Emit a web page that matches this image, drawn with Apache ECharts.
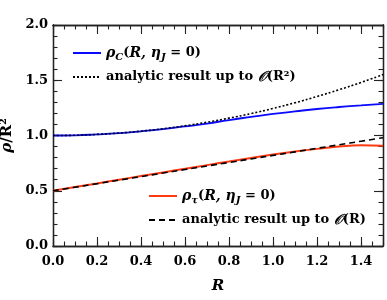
<!DOCTYPE html>
<html><head><meta charset="utf-8">
<script src="https://cdn.jsdelivr.net/npm/echarts@6/dist/echarts.min.js"></script>
<style>html,body{margin:0;padding:0;background:#fff}#c{width:387px;height:300px}</style>
</head><body><div id="c"></div>
<script>
// R grid (x values)
const R = [0.0,0.1,0.2,0.3,0.4,0.5,0.6,0.7,0.8,0.9,1.0,1.1,1.2,1.3,1.4,1.5];
// rho_C(R, eta_J = 0)  (blue)
const rhoC = [1.000,1.002,1.010,1.021,1.038,1.058,1.082,1.108,1.140,1.168,1.195,1.218,1.240,1.258,1.273,1.287];
// analytic up to O(R^2) (dotted)
const anaC = [1.000,1.002,1.010,1.022,1.039,1.061,1.088,1.120,1.157,1.198,1.245,1.296,1.353,1.414,1.480,1.551];
// rho_tau(R, eta_J = 0) (red)
const rhoT = [0.500,0.533,0.566,0.600,0.633,0.666,0.699,0.732,0.764,0.797,0.828,0.855,0.879,0.900,0.911,0.907];
// analytic up to O(R) (dashed)
const anaT = [0.500,0.532,0.564,0.596,0.628,0.660,0.692,0.724,0.756,0.788,0.820,0.852,0.884,0.916,0.948,0.980];
// tick labels
const xTicks = ['0.0','0.2','0.4','0.6','0.8','1.0','1.2','1.4'];
const yTicks = ['0.0','0.5','1.0','1.5','2.0'];

const pairs = a => R.map((r,i)=>[r,a[i]]);
const serif = '"DejaVu Serif", serif';
const axCol = '#222';
const rich = {
  m:{fontFamily:serif,fontStyle:'italic',fontWeight:'bold',fontSize:14,color:'#000'},
  s:{fontFamily:serif,fontStyle:'italic',fontWeight:'bold',fontSize:10,color:'#000',padding:[8,0,0,0]},
  t:{fontFamily:serif,fontWeight:'bold',fontSize:13,color:'#000'},
  o:{fontFamily:serif,fontStyle:'italic',fontWeight:'bold',fontSize:14,color:'#000'}
};
const legendText = {
  rc:'{m|ρ}{s|C}{t|(}{m|R, η}{s|J}{t| = 0)}',
  ac:'{t|analytic result up to }{o|𝒪}{t|(R²)}',
  rt:'{m|ρ}{s|τ}{t|(}{m|R, η}{s|J}{t| = 0)}',
  at:'{t|analytic result up to }{o|𝒪}{t|(R)}'
};
function xAx(pos, major, labels, grid){
  return {type:'value',gridIndex:grid,min:0,max:1.5,interval:major?0.2:0.05,position:pos,
    axisLine:{show:true,onZero:false,lineStyle:{color:axCol,width:1.3}},
    axisTick:{show:true,inside:true,length:major?9:4.5,lineStyle:{color:axCol,width:1.1}},
    axisLabel:{show:labels,margin:9,fontFamily:serif,fontWeight:'bold',fontSize:13,color:'#000',
      formatter:v=>{const k=Math.round(v/0.2);return (Math.abs(v-k*0.2)<1e-6&&k<xTicks.length)?xTicks[k]:'';}},
    splitLine:{show:false},
    name:labels?'R':'',nameLocation:'middle',nameGap:33,
    nameTextStyle:{fontFamily:serif,fontStyle:'italic',fontWeight:'bold',fontSize:15,color:'#000'}};
}
function yAx(pos, major, labels, grid){
  return {type:'value',gridIndex:grid,min:0,max:2,interval:major?0.5:0.1,position:pos,
    axisLine:{show:true,onZero:false,lineStyle:{color:axCol,width:1.3}},
    axisTick:{show:true,inside:true,length:major?9:4.5,lineStyle:{color:axCol,width:1.1}},
    axisLabel:{show:labels,margin:5,fontFamily:serif,fontWeight:'bold',fontSize:13,color:'#000',
      formatter:v=>yTicks[Math.round(v/0.5)]},
    splitLine:{show:false},
    name:labels?'{i|ρ}{n|/R²}':'',nameLocation:'middle',nameGap:30,nameRotate:90,
    nameTextStyle:{rich:{i:{fontFamily:serif,fontStyle:'italic',fontWeight:'bold',fontSize:15,color:'#000'},
                         n:{fontFamily:serif,fontWeight:'bold',fontSize:15,color:'#000'}}}};
}
const g = {left:53,top:25,right:4,bottom:54,containLabel:false,outerBoundsMode:'none'};
const chart = echarts.init(document.getElementById('c'));
chart.setOption({
  animation:false,
  grid:[Object.assign({},g),Object.assign({},g)],
  xAxis:[xAx('bottom',true,true,0),xAx('top',true,false,0),xAx('bottom',false,false,1),xAx('top',false,false,1)],
  yAxis:[yAx('left',true,true,0),yAx('right',true,false,0),yAx('left',false,false,1),yAx('right',false,false,1)],
  legend:[
    {data:['rc','ac'],orient:'vertical',left:72,top:46,padding:0,itemWidth:28,itemHeight:12,itemGap:8,
      itemStyle:{opacity:0},formatter:n=>legendText[n],textStyle:{rich}},
    {data:['rt','at'],orient:'vertical',left:148,top:189,padding:0,itemWidth:28,itemHeight:12,itemGap:8,
      itemStyle:{opacity:0},formatter:n=>legendText[n],textStyle:{rich}}
  ],
  series:[
    {name:'ac',type:'line',data:pairs(anaC),smooth:true,symbol:'none',z:3,lineStyle:{color:'#000',width:1.6,type:[2,2]},itemStyle:{color:'#000'}},
    {name:'rc',type:'line',data:pairs(rhoC),smooth:true,symbol:'none',z:2,lineStyle:{color:'#0a0aff',width:1.8},itemStyle:{color:'#0a0aff'}},
    {name:'at',type:'line',data:pairs(anaT),smooth:true,symbol:'none',z:3,lineStyle:{color:'#000',width:1.6,type:[6,4]},itemStyle:{color:'#000'}},
    {name:'rt',type:'line',data:pairs(rhoT),smooth:true,symbol:'none',z:2,lineStyle:{color:'#ff3a12',width:2},itemStyle:{color:'#ff3a12'}}
  ]
});
</script></body></html>
